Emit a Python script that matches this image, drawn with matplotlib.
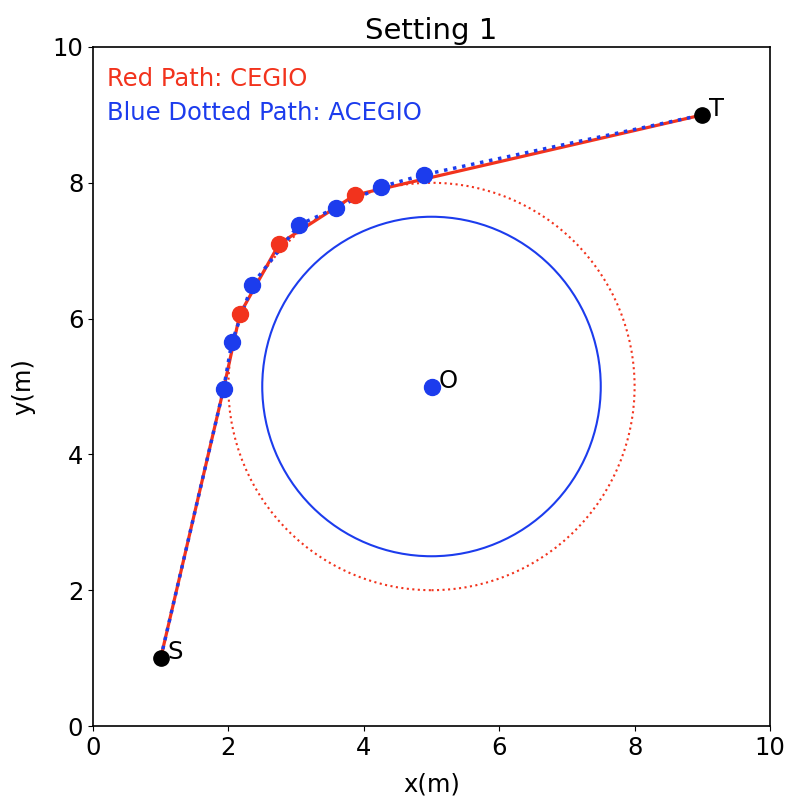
import numpy as np
import matplotlib.pyplot as plt
from matplotlib.patches import Circle

# obstacle centre and radii
center = (5, 5)
r_inner = 2.5
r_outer = 3.0

start = (1, 1)
target = (9, 9)

# blue dotted path waypoints
blue_x = [1.93, 2.05, 2.35, 3.04, 3.59, 4.25, 4.89]
blue_y = [4.97, 5.65, 6.50, 7.38, 7.63, 7.94, 8.12]

# red path waypoints
red_x = [2.17, 2.75, 3.87]
red_y = [6.07, 7.10, 7.82]

RED = '#f2331d'
BLUE = '#1c3ced'

plt.rcParams['font.size'] = 17.5

fig = plt.figure(figsize=(7.88, 7.97), dpi=100)
ax = fig.add_axes([93/788, 1-726/797, 677/788, 679/797])

ax.add_patch(Circle(center, r_inner, fill=False, edgecolor=BLUE, lw=1.5))
ax.add_patch(Circle(center, r_outer, fill=False, edgecolor=RED, lw=1.5, ls=':'))

rx = [start[0], blue_x[0]] + red_x + [target[0]]
ry = [start[1], blue_y[0]] + red_y + [target[1]]
ax.plot(rx, ry, color=RED, lw=2.3)
bx = [start[0]] + blue_x + [target[0]]
by = [start[1]] + blue_y + [target[1]]
ax.plot(bx, by, color=BLUE, lw=2.5, ls=':')

ax.plot(red_x, red_y, 'o', color=RED, ms=11.5)
ax.plot(blue_x, blue_y, 'o', color=BLUE, ms=11.5)
ax.plot([center[0]], [center[1]], 'o', color=BLUE, ms=11.5)
ax.plot([start[0], target[0]], [start[1], target[1]], 'o', color='black', ms=11)

ax.text(start[0]+0.1, start[1]-0.02, 'S')
ax.text(target[0]+0.1, target[1]-0.01, 'T')
ax.text(center[0]+0.1, center[1]-0.02, 'O')

ax.text(0.2, 9.42, 'Red Path: CEGIO', color=RED)
ax.text(0.2, 8.93, 'Blue Dotted Path: ACEGIO', color=BLUE)

ax.set_xlim(0, 10)
ax.set_ylim(0, 10)
ax.set_xlabel('x(m)', labelpad=9)
ax.set_ylabel('y(m)', labelpad=12)
ax.set_title('Setting 1')
for s in ax.spines.values():
    s.set_linewidth(1.2)

fig.savefig('out.png')
